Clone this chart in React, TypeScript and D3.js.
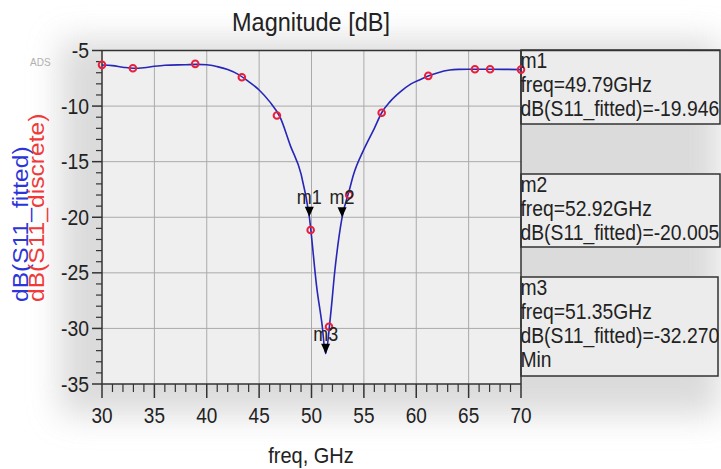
import React from "react";
import * as d3 from "d3";

// ---- data ----
const fittedFreq = [30, 31, 32, 33, 34, 35, 36, 38, 39, 40, 41, 42, 43, 44, 45, 46, 47, 48, 49, 49.79, 50.5, 51.0, 51.35, 51.8, 52.24, 52.92, 53.6, 54, 55, 56, 56.7, 57.5, 58.5, 59.5, 60.4, 61.2, 62, 63.2, 64, 65, 67, 70];
const fittedDb = [-6.3, -6.36, -6.5, -6.6, -6.55, -6.42, -6.33, -6.28, -6.25, -6.28, -6.45, -6.72, -7.15, -7.8, -8.55, -9.6, -11.0, -13.6, -16.1, -19.946, -26.3, -29.6, -32.27, -29.0, -24.7, -20.005, -17.6, -16.2, -13.9, -12.0, -10.6, -9.6, -8.7, -8.0, -7.6, -7.28, -7.02, -6.76, -6.7, -6.68, -6.68, -6.72];

const discreteFreq = [30, 32.95, 38.9, 43.35, 46.7, 49.92, 51.67, 53.6, 56.7, 61.15, 65.6, 67.05, 70];
const discreteDb = [-6.29, -6.59, -6.2, -7.4, -10.85, -21.15, -29.85, -18.0, -10.6, -7.28, -6.68, -6.68, -6.72];

const markerNames = ["m1", "m2", "m3"];
const markerFreqs = [49.79, 52.92, 51.35];
const markerValues = [-19.946, -20.005, -32.27];
const markerExtra = ["", "", "Min"];

const xTicks = [30, 35, 40, 45, 50, 55, 60, 65, 70];
const yTicks = [-5, -10, -15, -20, -25, -30, -35];

const SY = 1.12;
const FONT = "'Liberation Sans', Arial, sans-serif";

function T({ x, y, size, anchor = "start", fill = "#222", rotate = false, children }: any) {
  return (
    <g transform={`translate(${x},${y}) scale(1,${SY})${rotate ? " rotate(-90)" : ""}`}>
      <text fontSize={size} textAnchor={anchor} fill={fill} fontFamily={FONT}>
        {children}
      </text>
    </g>
  );
}

export default function App() {
  const W = 721, H = 469;
  const x = d3.scaleLinear().domain([30, 70]).range([102, 521]);
  const y = d3.scaleLinear().domain([-5, -35]).range([50.5, 384]);

  const fitted = fittedFreq.map((f, i) => [f, fittedDb[i]] as [number, number]);
  const line = d3
    .line<[number, number]>()
    .x((d) => x(d[0]))
    .y((d) => y(d[1]))
    .curve(d3.curveMonotoneX);

  const minorX = d3.range(30, 71, 1).filter((v) => v % 5 !== 0);
  const minorY = d3.range(-35, -4, 1).filter((v) => v % 5 !== 0);

  const boxes = [
    { top: 50, bottom: 124, right: 720 },
    { top: 174, bottom: 247, right: 720 },
    { top: 277, bottom: 376, right: 718 },
  ];

  const x0 = x(30), x1 = x(70), y0 = y(-5), y1 = y(-35);

  return (
    <div style={{ position: "absolute", left: 0, top: 0 }}>
      <svg width={W} height={H} style={{ display: "block", background: "#fff" }}>
        <defs>
          <filter id="blur" x="-30%" y="-30%" width="160%" height="160%">
            <feGaussianBlur stdDeviation="16" />
          </filter>
        </defs>
        {/* soft shadow */}
        <rect x={60} y={40} width={660} height={375} fill="#cfcfcf" opacity={0.75} filter="url(#blur)" />
        {/* plot area */}
        <rect x={x0} y={y0} width={x1 - x0} height={y1 - y0} fill="#efefef" />
        {/* boxes */}
        {boxes.map((b, i) => (
          <rect key={i} x={x1} y={b.top} width={b.right - x1} height={b.bottom - b.top} fill="#ececec" stroke="#333" strokeWidth={1.5} />
        ))}
        {/* grid */}
        {xTicks.slice(1, -1).map((t) => (
          <line key={"gx" + t} x1={x(t)} x2={x(t)} y1={y0} y2={y1} stroke="#aaa" strokeWidth={1} />
        ))}
        {yTicks.slice(1, -1).map((t) => (
          <line key={"gy" + t} x1={x0} x2={x1} y1={y(t)} y2={y(t)} stroke="#aaa" strokeWidth={1} />
        ))}
        {/* frame */}
        <line x1={x0} x2={720} y1={y0} y2={y0} stroke="#333" strokeWidth={1.5} />
        <line x1={x1} x2={x1} y1={y0} y2={y1} stroke="#333" strokeWidth={1.5} />
        <line x1={x0} x2={x0} y1={y0} y2={y1} stroke="#333" strokeWidth={1.5} />
        <line x1={x0} x2={x1} y1={y1} y2={y1} stroke="#333" strokeWidth={1.5} />
        {/* ticks */}
        {yTicks.map((t) => (
          <line key={"ty" + t} x1={x0 - 10} x2={x0} y1={y(t)} y2={y(t)} stroke="#333" strokeWidth={1.5} />
        ))}
        {minorY.map((t) => (
          <line key={"my" + t} x1={x0 - 6} x2={x0} y1={y(t)} y2={y(t)} stroke="#333" strokeWidth={1.2} />
        ))}
        {xTicks.map((t) => (
          <line key={"tx" + t} x1={x(t)} x2={x(t)} y1={y1} y2={y1 + 14} stroke="#333" strokeWidth={1.5} />
        ))}
        {minorX.map((t) => (
          <line key={"mx" + t} x1={x(t)} x2={x(t)} y1={y1} y2={y1 + 8} stroke="#333" strokeWidth={1.2} />
        ))}
        {/* tick labels */}
        {yTicks.map((t) => (
          <T key={"ly" + t} x={89} y={y(t) + 7.5} size={19.4} anchor="end">
            {String(t)}
          </T>
        ))}
        {xTicks.map((t) => (
          <T key={"lx" + t} x={x(t)} y={423} size={19} anchor="middle">
            {String(t)}
          </T>
        ))}
        {/* curve */}
        <path d={line(fitted) || ""} fill="none" stroke="#2626b8" strokeWidth={1.6} />
        {/* discrete points */}
        {discreteFreq.map((f, i) => (
          <circle key={"d" + i} cx={x(f)} cy={y(discreteDb[i])} r={3.3} fill="none" stroke="#e8203c" strokeWidth={2} />
        ))}
        {/* markers */}
        {markerFreqs.map((f, i) => {
          const mx = x(f), my = y(markerValues[i]);
          return (
            <g key={"m" + i}>
              <path d={`M${mx - 4.5},${my - 10}L${mx + 4.5},${my - 10}L${mx},${my}Z`} fill="#000" />
              <T x={mx} y={my - 13} size={18} anchor="middle" fill="#222">
                {markerNames[i]}
              </T>
            </g>
          );
        })}
        {/* marker boxes text */}
        {markerNames.map((m, i) => {
          const b = boxes[i];
          const lines = [m, `freq=${markerFreqs[i].toFixed(2)}GHz`, `dB(S11_fitted)=${markerValues[i].toFixed(3)}`];
          if (markerExtra[i]) lines.push(markerExtra[i]);
          return lines.map((s, j) => (
            <T key={m + j} x={520.5} y={b.top + 18 + j * 24} size={19.3} fill="#222">
              {s}
            </T>
          ));
        })}
        {/* titles */}
        <T x={311} y={31} size={23.5} anchor="middle">Magnitude [dB]</T>
        <T x={311} y={463} size={20} anchor="middle">freq, GHz</T>
        <T x={28} y={302} size={22} rotate fill="#2b35d8">dB(S11_fitted)</T>
        <T x={44} y={302} size={22} rotate fill="#f03a3a">dB(S11_discrete)</T>
        <T x={30} y={66} size={10} fill="#b0b0b0">ADS</T>
      </svg>
    </div>
  );
}
